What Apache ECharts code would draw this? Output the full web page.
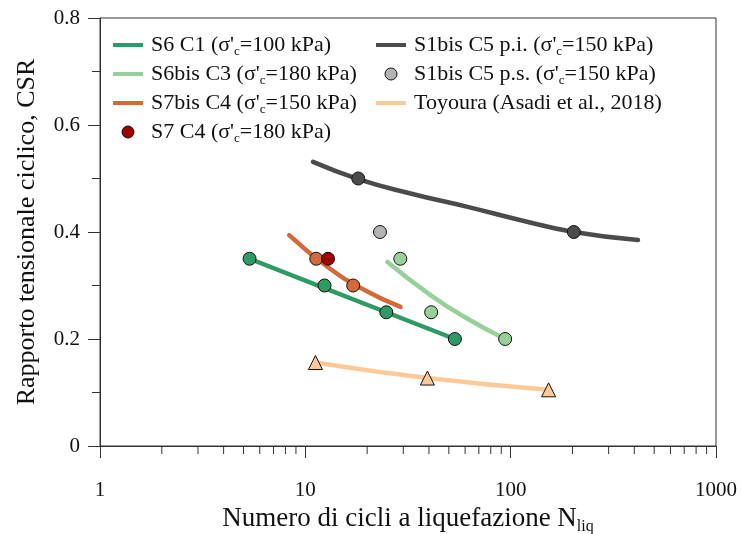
<!DOCTYPE html>
<html>
<head>
<meta charset="utf-8">
<style>html,body{margin:0;padding:0;background:#fff;}#c{width:741px;height:534px;}</style>
<script src="https://cdn.jsdelivr.net/npm/echarts@6/dist/echarts.min.js"></script>
</head>
<body>
<div id="c"></div>
<script>
// ---- data ----
// S6 C1 (green)
const s6c1Points = [[5.35, 0.35], [12.4, 0.30], [24.8, 0.25], [53.5, 0.20]];
const s6c1Curve  = [[5.35, 0.35], [12.4, 0.295], [24.8, 0.25], [53.5, 0.20]];
// S6bis C3 (light green)
const s6bisPoints = [[29, 0.35], [41, 0.25], [94, 0.20]];
const s6bisCurve  = [[25.1, 0.344], [40.7, 0.282], [59, 0.242], [94, 0.20]];
// S7bis C4 (orange)
const s7bisPoints = [[11.3, 0.35], [17.1, 0.30]];
const s7bisCurve  = [[8.34, 0.394], [12.8, 0.335], [19.3, 0.292], [29.1, 0.260]];
// S7 C4 (dark red)
const s7c4Points = [[12.9, 0.35]];
// S1bis C5 p.i. (dark grey)
const s1piPoints = [[18.1, 0.50], [203, 0.40]];
const s1piCurve  = [[10.9, 0.531], [18.1, 0.499], [32.5, 0.472], [61.7, 0.447], [112, 0.422], [203, 0.400], [417, 0.385]];
// S1bis C5 p.s. (grey)
const s1psPoints = [[23.1, 0.40]];
// Toyoura (Asadi et al., 2018)
const toyouraPoints = [[11.2, 0.156], [39.3, 0.127], [153, 0.105]];
// axis ticks
const xMinorTicks = [2,3,4,5,6,7,8,9,20,30,40,50,60,70,80,90,200,300,400,500,600,700,800,900];

const legendLeft = ['S6 C1', 'S6bis C3', 'S7bis C4', 'S7 C4'];
const legendRight = ['S1bis C5 p.i.', 'S1bis C5 p.s.', 'Toyoura'];
const lineNames = ['S6 C1', 'S6bis C3', 'S7bis C4', 'S1bis C5 p.i.', 'Toyoura'];
const legendText = {
  'S6 C1': "{n|S6 C1 (σ'}{s|c}{n|=100 kPa)}",
  'S6bis C3': "{n|S6bis C3 (σ'}{s|c}{n|=180 kPa)}",
  'S7bis C4': "{n|S7bis C4 (σ'}{s|c}{n|=150 kPa)}",
  'S7 C4': "{n|S7 C4 (σ'}{s|c}{n|=180 kPa)}",
  'S1bis C5 p.i.': "{n|S1bis C5 p.i. (σ'}{s|c}{n|=150 kPa)}",
  'S1bis C5 p.s.': "{n|S1bis C5 p.s. (σ'}{s|c}{n|=150 kPa)}",
  'Toyoura': "{n|Toyoura (Asadi et al., 2018)}"
};

const C = {
  green: '#2e9a66', lgreen: '#98d09b', orange: '#d4693a', dred: '#a20000',
  dgrey: '#4b4b4b', grey: '#b3b3b3', peach: '#fdc998'
};
const colorOf = {
  'S6 C1': C.green, 'S6bis C3': C.lgreen, 'S7bis C4': C.orange, 'S7 C4': C.dred,
  'S1bis C5 p.i.': C.dgrey, 'S1bis C5 p.s.': C.grey, 'Toyoura': C.peach
};
const FONT = 'Liberation Serif';
const rich = {
  n: {fontFamily: FONT, fontSize: 22, lineHeight: 26, color: '#111'},
  s: {fontFamily: FONT, fontSize: 13, lineHeight: 10, verticalAlign: 'bottom', color: '#111'}
};
const LINE_ICON = 'path://M0,0 M0,4 L30,4 L30,8 L0,8 Z M30,12';

function lineSeries(name, data, color) {
  return {name, type: 'line', data, smooth: true, symbol: 'none', z: 2,
    lineStyle: {color, width: 4.5, cap: 'round'}, itemStyle: {color}};
}
function scatterSeries(name, data, color, symbol, size) {
  return {name, type: 'scatter', data, symbol: symbol || 'circle', symbolSize: size || 13, z: 5,
    itemStyle: {color, borderColor: '#111', borderWidth: 1, opacity: 1}};
}
function legendData(names) {
  return names.map(n => lineNames.includes(n)
    ? {name: n, icon: LINE_ICON, itemStyle: {color: colorOf[n], borderWidth: 0}}
    : {name: n, itemStyle: {color: colorOf[n], borderColor: '#111', borderWidth: 1}});
}

const chart = echarts.init(document.getElementById('c'), null, {renderer: 'canvas'});
const legendCommon = {
  orient: 'vertical', itemWidth: 30, itemHeight: 12, itemGap: 5,
  formatter: n => legendText[n],
  textStyle: {rich, fontFamily: FONT, fontSize: 22, padding: [0, 0, 0, 3]},
  selectedMode: false
};
chart.setOption({
  animation: false,
  grid: {left: 100, top: 18, right: 25, bottom: 88, show: true, borderColor: '#333', borderWidth: 1,
    containLabel: false, outerBoundsMode: 'none'},
  legend: [
    Object.assign({left: 108, top: 29, data: legendData(legendLeft)}, legendCommon),
    Object.assign({left: 371, top: 29, data: legendData(legendRight)}, legendCommon)
  ],
  xAxis: {
    type: 'log', logBase: 10, min: 1, max: 1000,
    name: "{n|Numero di cicli a liquefazione N}{s|liq}",
    nameLocation: 'middle', nameGap: 55,
    nameTextStyle: {rich: {
      n: {fontFamily: FONT, fontSize: 27, lineHeight: 30, color: '#111'},
      s: {fontFamily: FONT, fontSize: 16, lineHeight: 12, verticalAlign: 'bottom', color: '#111'}
    }},
    axisLine: {show: true, lineStyle: {color: '#333', width: 1}},
    axisTick: {show: true, inside: false, length: 12, lineStyle: {color: '#333'}},
    axisLabel: {fontFamily: FONT, fontSize: 21, color: '#111', margin: 34, formatter: v => String(v)},
    splitLine: {show: false}
  },
  yAxis: {
    type: 'value', min: 0, max: 0.8, interval: 0.2,
    name: 'Rapporto tensionale ciclico, CSR', nameLocation: 'middle', nameGap: 60,
    nameTextStyle: {fontFamily: FONT, fontSize: 26, color: '#111'},
    axisLine: {show: true, lineStyle: {color: '#333', width: 1}},
    axisTick: {show: true, inside: false, length: 12, lineStyle: {color: '#333'}},
    minorTick: {show: true, splitNumber: 2, length: 8, lineStyle: {color: '#333'}},
    axisLabel: {fontFamily: FONT, fontSize: 21, color: '#111', margin: 20,
      formatter: v => (v === 0 ? '0' : v.toFixed(1))},
    splitLine: {show: false}
  },
  series: [
    {
      name: 'minorTicksX', type: 'custom', data: xMinorTicks.map(v => [v, 0]), clip: false, silent: true, z: 1,
      renderItem: (params, api) => {
        const p = api.coord([api.value(0), 0]);
        return {type: 'line', shape: {x1: p[0], y1: p[1], x2: p[0], y2: p[1] + 8},
          style: {stroke: '#333', lineWidth: 1}};
      }
    },
    lineSeries('S6 C1', s6c1Curve, C.green),
    lineSeries('S6bis C3', s6bisCurve, C.lgreen),
    lineSeries('S7bis C4', s7bisCurve, C.orange),
    lineSeries('S1bis C5 p.i.', s1piCurve, C.dgrey),
    lineSeries('Toyoura', toyouraPoints, C.peach),
    scatterSeries('S6 C1 pts', s6c1Points, C.green),
    scatterSeries('S6bis C3 pts', s6bisPoints, C.lgreen),
    scatterSeries('S7bis C4 pts', s7bisPoints, C.orange),
    scatterSeries('S7 C4', s7c4Points, C.dred),
    scatterSeries('S1bis C5 p.i. pts', s1piPoints, C.dgrey),
    scatterSeries('S1bis C5 p.s.', s1psPoints, C.grey),
    scatterSeries('Toyoura pts', toyouraPoints, C.peach, 'triangle', 14)
  ]
});
</script>
</body>
</html>
